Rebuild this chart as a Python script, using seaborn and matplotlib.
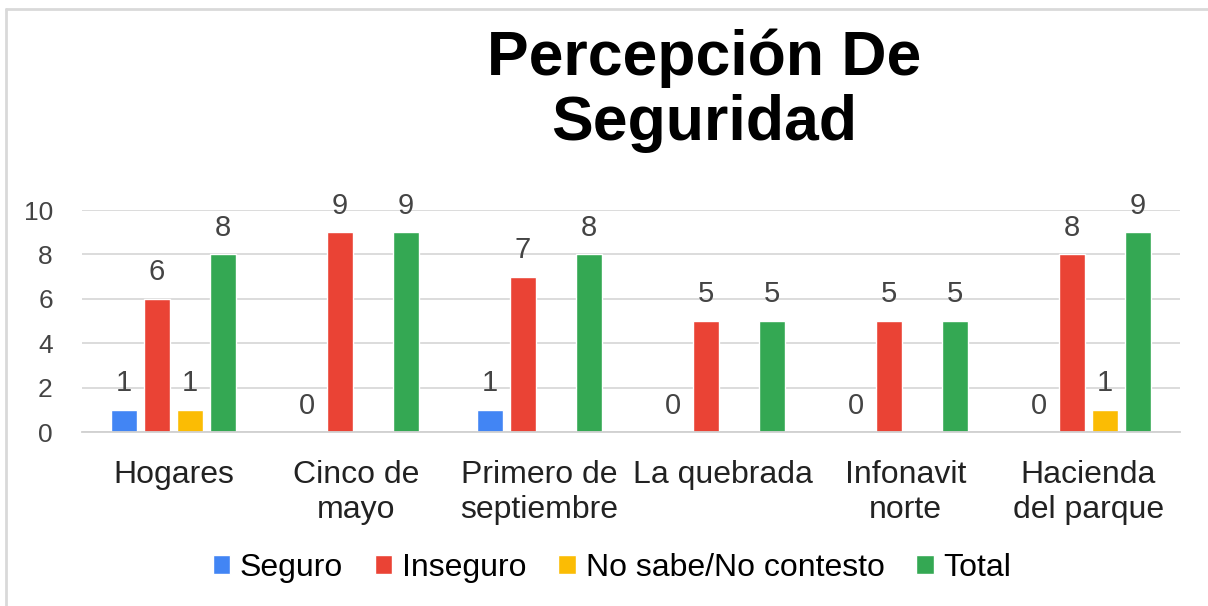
import numpy as np
import pandas as pd
import matplotlib
matplotlib.use('Agg')
import matplotlib.pyplot as plt
from matplotlib.lines import Line2D
import seaborn as sns

# datos
barrios = ['Hogares', 'Cinco de\nmayo', 'Primero de\nseptiembre', 'La quebrada',
           'Infonavit\nnorte', 'Hacienda\ndel parque']
seguro = [1, 0, 1, 0, 0, 0]
inseguro = [6, 9, 7, 5, 5, 8]
no_sabe = [1, np.nan, np.nan, np.nan, np.nan, 1]
total = [8, 9, 8, 5, 5, 9]
series = ['Seguro', 'Inseguro', 'No sabe/No contesto', 'Total']
colores = ['#4285F4', '#EA4335', '#FBBC04', '#34A853']
y_ticks = [0, 2, 4, 6, 8, 10]

df = pd.DataFrame({'barrio': barrios, 'Seguro': seguro, 'Inseguro': inseguro,
                   'No sabe/No contesto': no_sabe, 'Total': total})
df = df.melt(id_vars='barrio', var_name='serie', value_name='valor').dropna()

sns.set_theme(style='white')
plt.rcParams['font.family'] = ['Liberation Sans', 'DejaVu Sans']

W, H = 1208, 606
fig = plt.figure(figsize=(W / 100, H / 100), dpi=100)
ax = fig.add_axes([82 / W, 1 - 432 / H, (1180 - 82) / W, (432 - 210) / H])

sns.barplot(data=df, x='barrio', y='valor', hue='serie', order=barrios, hue_order=series,
            palette=dict(zip(series, colores)), saturation=1, width=0.72, gap=0.2,
            errorbar=None, ax=ax)

for c in ax.containers:
    ax.bar_label(c, fmt='%g', padding=9, fontsize=21, color='#444444')

ax.set_ylim(0, 10)
ax.set_yticks(y_ticks)
ax.set_xlim(-0.5, len(barrios) - 0.5)
ax.yaxis.grid(True, color='#d9d9d9', lw=1.3)
ax.set_axisbelow(True)
for s in ['top', 'right', 'left']:
    ax.spines[s].set_visible(False)
ax.spines['bottom'].set_color('#d0d0d0')
ax.spines['bottom'].set_linewidth(1.3)
ax.set_xlabel('')
ax.set_ylabel('')
ax.tick_params(axis='y', length=0, pad=21, labelsize=19, labelcolor='#444444')
ax.tick_params(axis='x', length=0, pad=20, labelsize=23, labelcolor='#222222')
for t in ax.get_xticklabels():
    t.set_linespacing(1.22)

handles, labels = ax.get_legend_handles_labels()
ax.get_legend().remove()
fig.legend(handles, labels, loc='center', bbox_to_anchor=(612 / W, 1 - 568 / H), ncol=4,
           frameon=False, fontsize=23, handlelength=0.55, handleheight=0.55,
           handletextpad=0.3, columnspacing=1.0, labelcolor='black')

fig.text(704 / W, 1 - 28 / H, 'Percepción De\nSeguridad', ha='center', va='top',
         fontsize=45, fontweight='bold', linespacing=1.15, color='black')

# marco del grafico (solo arriba e izquierda)
fig.add_artist(Line2D([6 / W, 1], [1 - 9 / H, 1 - 9 / H], color='#d9d9d9', lw=2))
fig.add_artist(Line2D([6 / W, 6 / W], [0, 1 - 9 / H], color='#d9d9d9', lw=2))

fig.savefig('out.png', dpi=100, facecolor='white')
